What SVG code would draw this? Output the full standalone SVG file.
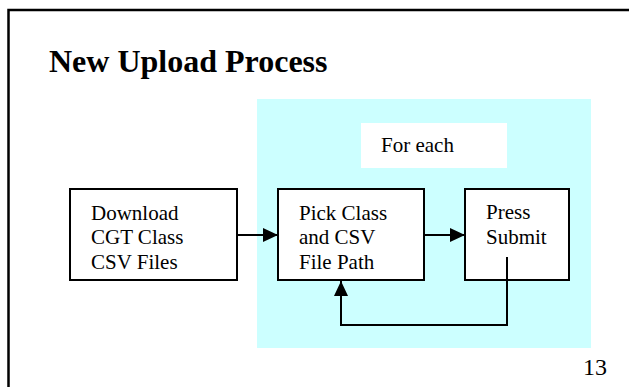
<svg xmlns="http://www.w3.org/2000/svg" width="629" height="387" viewBox="0 0 629 387">
<style>
.box{fill:#fff;stroke:#000;stroke-width:2}
.t{font-family:"Liberation Serif","Times New Roman",serif;font-size:21px;fill:#000}
.c{fill:none;stroke:#000;stroke-width:2}
</style>
<defs>
<marker id="ah" markerWidth="15" markerHeight="14" refX="15" refY="7" orient="auto" markerUnits="userSpaceOnUse">
<path d="M0,0 L15,7 L0,14 Z" fill="#000"/>
</marker>
</defs>
<rect width="629" height="387" fill="#fff"/>
<path d="M8.5,387 V10 H629" fill="none" stroke="#000" stroke-width="2.5"/>
<text x="49" y="72" font-family="Liberation Serif,Times New Roman,serif" font-size="32" font-weight="bold">New Upload Process</text>
<g id="loop-region">
<rect x="257" y="99" width="334" height="249" fill="#ccffff"/>
</g>
<g id="for-each">
<rect x="361" y="123" width="146" height="45" fill="#fff"/>
<text class="t" x="381" y="152">For each</text>
</g>
<g id="download">
<rect class="box" x="70" y="189" width="167" height="91"/>
<text class="t" x="91" y="220">Download</text>
<text class="t" x="91" y="244">CGT Class</text>
<text class="t" x="91" y="269">CSV Files</text>
</g>
<g id="pick">
<rect class="box" x="278" y="189" width="146" height="91"/>
<text class="t" x="299" y="220">Pick Class</text>
<text class="t" x="299" y="244">and CSV</text>
<text class="t" x="299" y="269">File Path</text>
</g>
<g id="press">
<rect class="box" x="465" y="189" width="104" height="91"/>
<text class="t" x="486" y="219">Press</text>
<text class="t" x="486" y="244">Submit</text>
</g>
<g id="connectors">
<line class="c" x1="237" y1="235" x2="278" y2="235" marker-end="url(#ah)"/>
<line class="c" x1="424" y1="235" x2="465" y2="235" marker-end="url(#ah)"/>
<path class="c" d="M507,257 V325 H341 V281" marker-end="url(#ah)"/>
</g>
<text x="583" y="375" font-family="Liberation Serif,Times New Roman,serif" font-size="24">13</text>
</svg>
